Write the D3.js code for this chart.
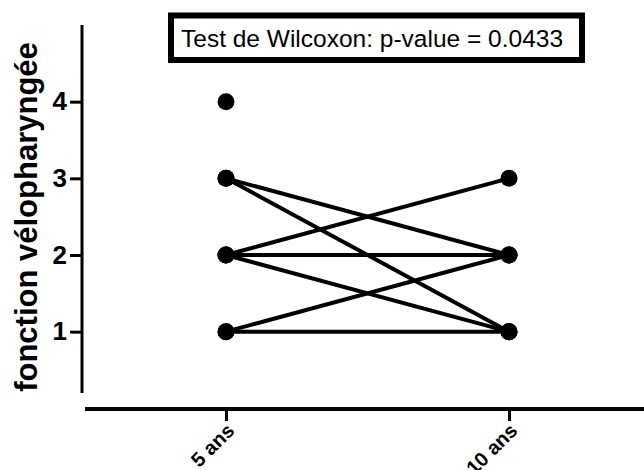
<!DOCTYPE html>
<html><head><meta charset="utf-8">
<script src="https://cdn.jsdelivr.net/npm/d3@7"></script>
<style>body{margin:0;background:#fff}svg{display:block}</style>
</head><body>
<script>
const groups = ["5 ans", "10 ans"];
const before = [4, 3, 3, 2, 2, 2, 1, 1];
const after  = [null, 2, 1, 3, 2, 1, 2, 1];
const yTicks = [1, 2, 3, 4];
const yLabel = "fonction vélopharyngée";
const title = "Test de Wilcoxon: p-value = 0.0433";

const W = 644, H = 470;
const svg = d3.select("body").append("svg").attr("width", W).attr("height", H);
const font = "Arial, 'Liberation Sans', sans-serif";

const y = d3.scaleLinear().domain([0.2, 5]).range([393, 25]);
const x = d3.scalePoint().domain(groups).range([226, 509]);

// lines
const g = svg.append("g");
before.forEach((b, i) => {
  if (after[i] != null) {
    g.append("line").attr("x1", x(groups[0])).attr("y1", y(b))
      .attr("x2", x(groups[1])).attr("y2", y(after[i]))
      .attr("stroke", "#000").attr("stroke-width", 4);
  }
});
before.forEach(b => g.append("circle").attr("cx", x(groups[0])).attr("cy", y(b)).attr("r", 8.5).attr("fill", "#000"));
after.forEach(a => { if (a != null) g.append("circle").attr("cx", x(groups[1])).attr("cy", y(a)).attr("r", 8.5).attr("fill", "#000"); });

// y axis
const ya = svg.append("g").attr("transform", "translate(82,0)")
  .call(d3.axisLeft(y).tickValues(yTicks).tickFormat(d3.format("d")).tickSize(12).tickPadding(3));
ya.select(".domain").attr("stroke-width", 3).attr("d", `M0,${y(5)}V${y(0.2)}`);
ya.selectAll(".tick line").attr("stroke-width", 3);
ya.selectAll(".tick text").style("font-family", font).style("font-weight", "bold").style("font-size", "26px").attr("fill", "#000");

// x axis
const xa = svg.append("g").attr("transform", "translate(0,409)")
  .call(d3.axisBottom(x).tickSize(12).tickPadding(6));
xa.select(".domain").attr("stroke-width", 4).attr("d", "M85,0H644");
xa.selectAll(".tick line").attr("stroke-width", 3);
xa.selectAll(".tick text").style("font-family", font).style("font-weight", "bold").style("font-size", "20px").attr("fill", "#000")
  .attr("text-anchor", "end").attr("x", 0).attr("y", 0).attr("dy", 0)
  .attr("transform", "translate(9,23) rotate(-45)");

// y label
svg.append("text").attr("transform", `translate(37,217) rotate(-90)`)
  .attr("text-anchor", "middle").style("font-family", font).style("font-weight", "bold")
  .style("font-size", "31px").attr("fill", "#000").text(yLabel);

// title box
svg.append("rect").attr("x", 171).attr("y", 15.5).attr("width", 411).attr("height", 44.5)
  .attr("fill", "#fff").attr("stroke", "#000").attr("stroke-width", 6);
svg.append("text").attr("x", 181).attr("y", 47).attr("text-anchor", "start")
  .style("font-family", font).style("font-size", "24.5px").attr("fill", "#000").text(title);
</script>
</body></html>
